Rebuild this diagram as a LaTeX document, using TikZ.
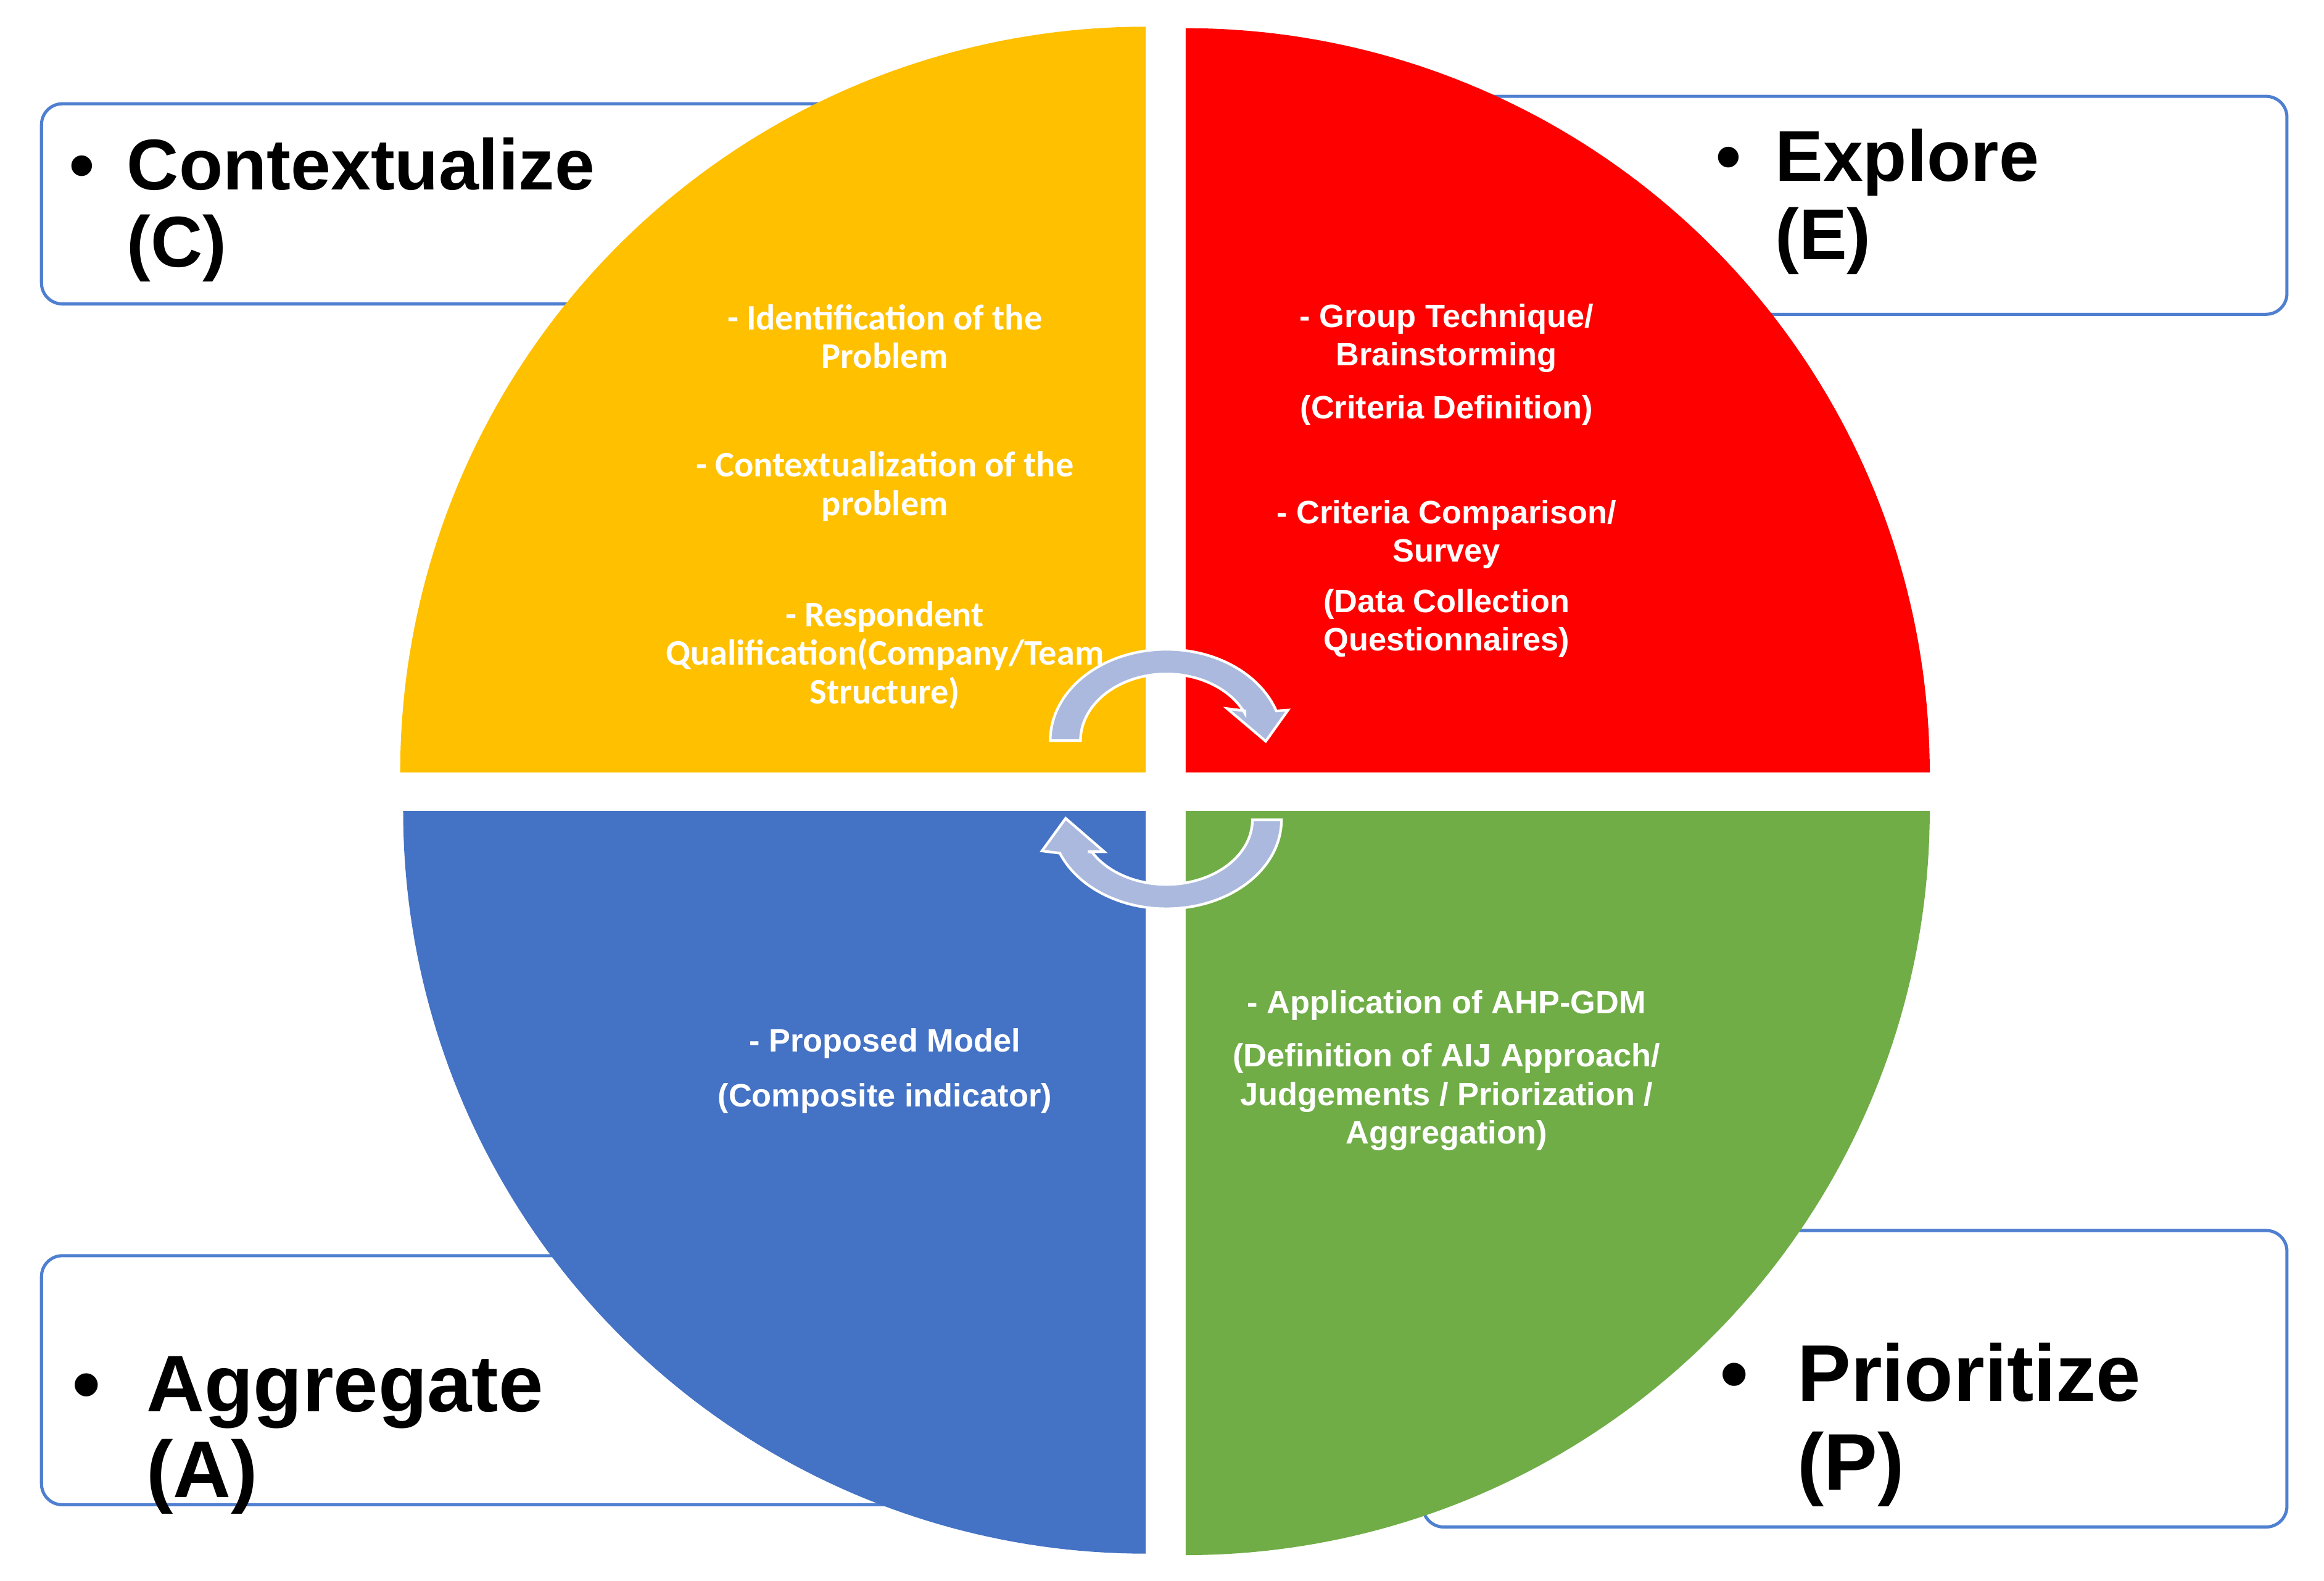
\documentclass[tikz,border=0pt]{standalone}
\usepackage{fontspec}
\setmainfont{Liberation Sans}
\newfontfamily\carl{Carlito}
\definecolor{cy}{HTML}{FFC000}
\definecolor{cr}{HTML}{FF0000}
\definecolor{cb}{HTML}{4472C4}
\definecolor{cg}{HTML}{70AD47}
\definecolor{ca}{HTML}{AAB9DD}
\definecolor{bx}{HTML}{4F7FD0}
\begin{document}
\begin{tikzpicture}[x=0.01cm,y=-0.01cm,
  box/.style={draw=bx,line width=0.6pt,fill=white,rounded corners=4pt},
  big/.style={anchor=base west,inner sep=0pt,font=\bfseries\fontsize{13.8}{16}\selectfont},
  huge/.style={anchor=base west,inner sep=0pt,font=\bfseries\fontsize{15.4}{18}\selectfont},
  wt/.style={text=white,align=center,inner sep=0pt,font=\bfseries\fontsize{6.2}{7.37}\selectfont},
  yt/.style={text=white,align=center,inner sep=0pt,font=\carl\bfseries\fontsize{6.9}{7.37}\selectfont},
  arr/.style={fill=ca,draw=white,line width=0.5pt}]
\path[use as bounding box] (0,0) rectangle (1568,1066.4);
% boxes
\draw[box] (28,70) rectangle (620,205);
\draw[box] (960,65) rectangle (1543,212);
\draw[box] (28,847) rectangle (620,1015);
\draw[box] (960,830) rectangle (1543,1030);
% quadrants
\fill[cy] (773,521) -- plot[domain=180:90,samples=90] ({773+503*cos(\x)},{521-503*sin(\x)}) -- cycle;
\fill[cr] (800,521) -- plot[domain=90:0,samples=90] ({800+502*cos(\x)},{521-502*sin(\x)}) -- cycle;
\fill[cg] (800,547) -- plot[domain=0:-90,samples=90] ({800+502*cos(\x)},{547-502*sin(\x)}) -- cycle;
\fill[cb] (773,547) -- plot[domain=-90:-180,samples=90] ({773+501*cos(\x)},{547-501*sin(\x)}) -- cycle;
% arrows
\draw[arr] plot[domain=180:19,samples=80] ({787+78.4*cos(\x)},{499.6-61.6*sin(\x)})
  -- (869,479) -- (854,500) -- (828,478) -- (840,479.5)
  -- plot[domain=24:180,samples=80] ({787+58*cos(\x)},{499.6-45*sin(\x)}) -- cycle;
\draw[arr] plot[domain=0:-158,samples=80] ({787+77.6*cos(\x)},{553-60*sin(\x)})
  -- (703,574) -- (719,552) -- (745,574.5) -- (734,574.5)
  -- plot[domain=-150:0,samples=80] ({787+58*cos(\x)},{553-43.6*sin(\x)}) -- cycle;
% box labels
\node[big] (cb1) at (46,128) {•};
\node[big] (c1) at (85,128) {Contextualize};
\node[big] (c2) at (85,180) {(C)};
\node[big] (eb1) at (1157,122) {•};
\node[big] (e1) at (1197,122) {Explore};
\node[big] (e2) at (1197,175) {(E)};
\node[huge] (ab1) at (48,952) {•};
\node[huge] (a1) at (98,952) {Aggregate};
\node[huge] (a2) at (98,1010) {(A)};
\node[huge] (pb1) at (1160,945) {•};
\node[huge] (p1) at (1212,945) {Prioritize};
\node[huge] (p2) at (1212,1005) {(P)};
% yellow texts
\node[yt] (y1) at (597,227) {- Identification of the\\Problem};
\node[yt] (y2) at (597,328) {- Contextualization of the\\problem};
\node[yt] (y3) at (597,442) {- Respondent\\Qualification(Company/Team\\Structure)};
% red texts
\node[wt] (r1) at (976,228) {- Group Technique/\\Brainstorming};
\node[wt] (r2) at (976,277) {(Criteria Definition)};
\node[wt] (r3) at (976,360.5) {- Criteria Comparison/\\Survey};
\node[wt] (r4) at (976,420.5) {(Data Collection\\Questionnaires)};
% green texts
\node[wt] (g1) at (976,678) {- Application of AHP-GDM};
\node[wt] (g2) at (976,740) {(Definition of AIJ Approach/\\Judgements / Priorization /\\Aggregation)};
% blue texts
\node[wt] (b1) at (597,704) {- Proposed Model};
\node[wt] (b2) at (597,741) {(Composite indicator)};
\end{tikzpicture}
\end{document}
